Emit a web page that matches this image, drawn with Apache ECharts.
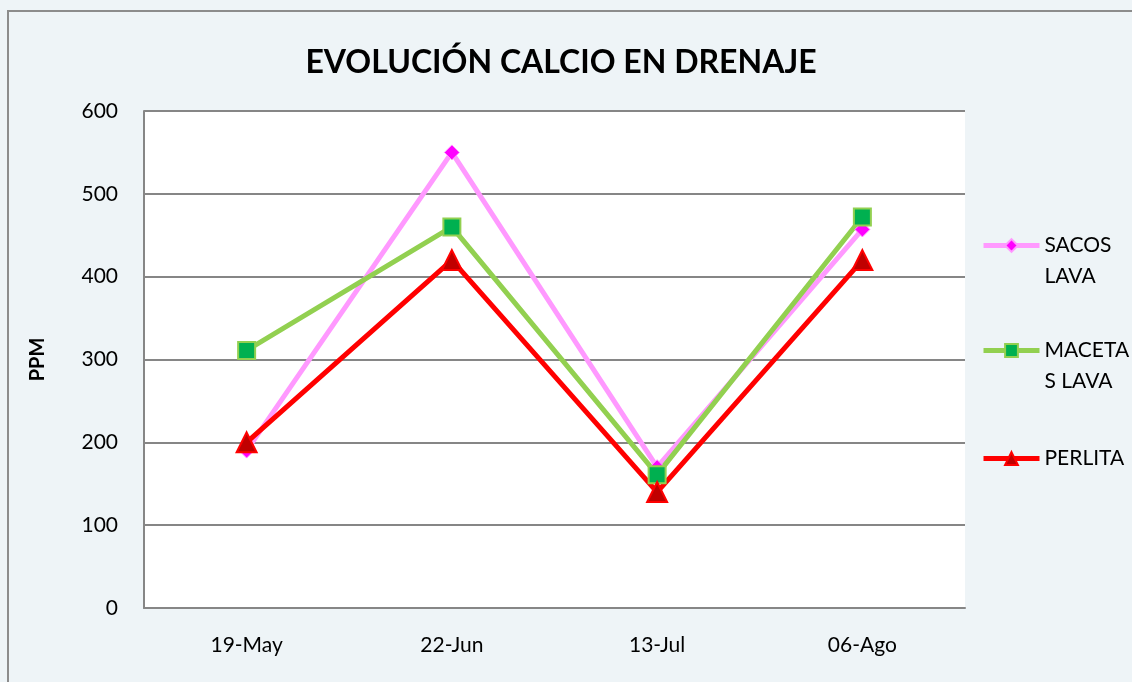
<!DOCTYPE html>
<html>
<head>
<meta charset="utf-8">
<script src="https://cdn.jsdelivr.net/npm/echarts@6/dist/echarts.min.js"></script>
<style>
  html, body { margin: 0; padding: 0; background: #eef4f7; }
  .frame {
    position: absolute; left: 7px; top: 10px; width: 1140px; height: 690px;
    border: 2px solid #8c8c8c; background: #eef4f7; box-sizing: border-box;
  }
  #chart { position: absolute; left: 0; top: 0; width: 1132px; height: 682px; }
</style>
</head>
<body>
<div class="frame"></div>
<div id="chart"></div>
<script>
// datos
const categories = ['19-May', '22-Jun', '13-Jul', '06-Ago'];
const sacosLava = [190, 550, 170, 457];
const macetasLava = [311, 460, 161, 472];
const perlita = [200, 420, 140, 420];
const yTicks = [0, 100, 200, 300, 400, 500, 600];

const font = 'Lato, "Open Sans", sans-serif';
const chart = echarts.init(document.getElementById('chart'));

// leyenda: una por serie para colocar cada una
function legendAt(name, text, top) {
  return {
    data: [name],
    left: 981,
    top: top,
    padding: 0,
    itemWidth: 56,
    itemHeight: 16,
    itemGap: 0,
    lineStyle: { width: 5 },
    formatter: () => text,
    textStyle: { fontFamily: font, fontSize: 21, color: '#000', lineHeight: 31 }
  };
}

chart.setOption({
  animation: false,
  title: {
    text: 'EVOLUCIÓN CALCIO EN DRENAJE',
    left: 556,
    top: 42,
    textAlign: 'center',
    textStyle: { fontFamily: font, fontSize: 32, fontWeight: 'bold', color: '#000' }
  },
  legend: [
    legendAt('SACOS LAVA', '\nSACOS\nLAVA', 199),
    legendAt('MACETAS LAVA', '\nMACETA\nS LAVA', 304),
    legendAt('PERLITA', 'PERLITA', 443)
  ],
  grid: {
    left: 144, right: 167, top: 111, bottom: 74, containLabel: false,
    show: true, backgroundColor: '#ffffff', borderWidth: 0
  },
  xAxis: {
    type: 'category',
    data: categories,
    boundaryGap: true,
    axisLine: { lineStyle: { color: '#868686', width: 2 } },
    axisTick: { show: false },
    axisLabel: { fontFamily: font, fontSize: 21, color: '#000', margin: 27 }
  },
  yAxis: {
    type: 'value',
    min: yTicks[0],
    max: yTicks[yTicks.length - 1],
    interval: 100,
    name: 'PPM',
    nameLocation: 'middle',
    nameGap: 96,
    nameTextStyle: { fontFamily: font, fontSize: 20, fontWeight: 'bold', color: '#000' },
    axisLine: { show: true, lineStyle: { color: '#868686', width: 2 } },
    axisTick: { show: false },
    axisLabel: { fontFamily: font, fontSize: 21, color: '#000', margin: 26 },
    splitLine: { lineStyle: { color: '#868686', width: 2 } }
  },
  series: [
    {
      name: 'SACOS LAVA',
      type: 'line',
      data: sacosLava,
      symbol: 'diamond',
      symbolSize: 15,
      lineStyle: { color: '#ff99ff', width: 5 },
      itemStyle: { color: '#ff00ff', borderColor: '#ff99ff', borderWidth: 1 }
    },
    {
      name: 'MACETAS LAVA',
      type: 'line',
      data: macetasLava,
      symbol: 'rect',
      symbolSize: 17,
      lineStyle: { color: '#92d050', width: 5 },
      itemStyle: { color: '#00b050', borderColor: '#92d050', borderWidth: 2 }
    },
    {
      name: 'PERLITA',
      type: 'line',
      data: perlita,
      symbol: 'triangle',
      symbolSize: 20,
      lineStyle: { color: '#ff0000', width: 5 },
      itemStyle: { color: '#c00000', borderColor: '#ff0000', borderWidth: 2 }
    }
  ]
});
</script>
</body>
</html>
